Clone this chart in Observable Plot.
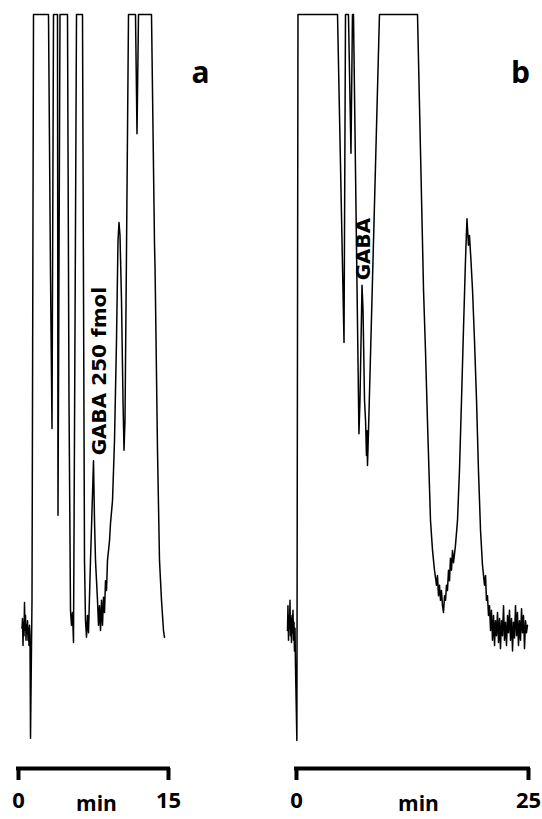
<!DOCTYPE html>
<html>
<head>
<meta charset="utf-8">
<script src="https://cdn.jsdelivr.net/npm/d3@7"></script>
<script src="https://cdn.jsdelivr.net/npm/@observablehq/plot@0.6"></script>
<style>
  body { margin: 0; background: #fff; }
  #wrap { position: relative; width: 542px; height: 819px; background: #fff; }
  #wrap > svg { position: absolute; top: 0; }
</style>
</head>
<body>
<div id="wrap"></div>
<script>
// ---- Panel a: chromatogram, 0–15 min (signal in % of full scale; 100 = off-scale)
const timeA = [0.35,0.40,0.45,0.50,0.55,0.60,0.65,0.70,0.75,0.80,0.85,0.90,0.95,1.00,1.05,1.10,1.15,
  1.20,1.35,1.50,3.00,3.20,3.35,3.50,3.90,3.95,4.15,4.90,5.05,5.20,5.30,5.40,5.50,
  5.80,6.40,6.60,6.70,6.80,6.90,7.00,7.20,7.50,7.60,7.70,
  7.90,8.00,8.10,8.20,8.30,8.40,8.50,8.60,8.70,8.80,8.90,
  9.10,9.20,9.40,9.60,9.80,9.95,10.05,10.15,10.30,10.45,10.55,10.65,10.80,
  11.00,11.70,11.85,12.00,13.30,13.60,13.65,13.70,13.90,14.10,14.30,14.50,14.60];
const signalA = [18.6,19.9,16.3,19.4,17.6,22.0,18.3,20.3,17.0,19.0,18.0,19.6,17.0,18.6,16.3,19.0,17.6,
  4.0,22.3,100,100,65.6,45.1,100,100,33.6,100,100,48.8,21.0,19.0,20.7,16.7,
  100,100,27.6,19.6,17.4,20.3,18.0,27.6,40.8,32.9,27.6,
  22.3,19.0,21.6,18.3,22.3,19.0,22.7,20.7,24.9,23.6,27.6,
  30.2,32.5,35.5,43.5,56.8,70.0,72.4,70.7,62.1,48.8,42.2,46.2,68.7,
  100,100,84.2,100,100,69.6,66.7,62.1,42.2,27.6,22.3,18.3,17.4];
const ticksA = [0, 15];
const notesA = [{t: 8.1, v: 52.7, label: "GABA 250 fmol"}];

// ---- Panel b: chromatogram, 0–25 min
const timeB = [-0.97,-0.92,-0.86,-0.81,-0.75,-0.70,-0.65,-0.59,-0.54,-0.48,-0.43,-0.38,-0.32,-0.27,-0.22,-0.16,-0.11,
  0.04,0.16,4.42,5.12,5.28,5.60,5.87,6.03,6.14,
  6.47,6.73,6.84,7.06,7.17,7.33,7.44,7.54,7.60,7.65,7.76,8.30,8.94,
  13.04,13.69,13.90,14.12,14.44,14.66,14.87,15.09,15.19,15.30,15.41,15.52,15.62,15.73,15.84,15.95,16.06,16.16,16.27,16.38,16.49,16.59,16.70,16.81,16.92,17.13,17.35,17.56,17.78,17.99,18.21,18.37,18.53,18.64,18.80,18.97,19.18,19.40,19.61,19.83,20.04,20.26,20.37,20.47,20.58,
  20.69,20.80,20.91,21.01,21.12,21.23,21.34,21.44,21.55,21.66,21.77,21.88,21.98,22.09,22.20,22.31,22.41,22.52,22.63,22.74,22.84,22.95,23.06,23.17,23.28,23.38,23.49,23.60,23.71,23.81,23.92,24.03,24.14,24.25,24.35,24.46,24.57,24.68,24.78,24.89];
const signalB = [18.3,21.6,17.0,20.3,18.6,22.3,17.6,19.9,16.7,20.3,18.0,21.0,17.0,19.4,15.6,18.6,13.7,
  3.7,100,100,56.5,100,100,81.6,100,100,
  68.7,44.4,48.8,64.1,60.7,48.8,46.2,41.5,44.8,40.2,44.8,70.0,100,
  100,63.4,55.4,45.8,32.9,28.9,26.3,24.3,25.6,22.9,24.3,22.3,23.6,21.6,20.7,22.9,22.3,24.3,23.6,26.3,24.9,27.9,26.3,28.9,27.3,29.6,32.9,39.5,48.8,58.1,67.4,72.9,69.4,70.7,67.4,63.4,56.8,48.8,39.5,31.6,27.0,24.3,25.6,22.3,22.9,
  20.3,21.6,18.3,21.0,17.0,20.3,16.3,19.6,17.6,20.7,16.7,19.9,15.9,19.6,17.6,21.6,17.0,19.4,16.3,20.3,18.0,21.0,17.0,19.9,15.6,19.4,17.3,21.6,17.6,20.7,16.3,19.6,17.0,21.2,18.0,20.3,15.9,19.6,18.0,19.0];
const ticksB = [0, 25];
const notesB = [{t: 7.27, v: 68.9, label: "GABA"}];

const unitLabel = "min";
const H = 819;
const wrap = document.getElementById("wrap");

function panel({time, signal, ticks, letter, notes, width, marginLeft, marginRight, left, letterDx, minDx}) {
  const data = time.map((t, i) => ({t, v: signal[i]}));
  const x0 = ticks[0], x1 = ticks[ticks.length - 1];
  const chart = Plot.plot({
    width, height: H,
    marginTop: 14, marginBottom: 51, marginLeft, marginRight,
    x: {domain: [x0, x1]},
    y: {domain: [0, 100], axis: null},
    style: {fontFamily: "'Open Sans', sans-serif", background: "white", color: "black", overflow: "visible"},
    marks: [
      Plot.line(data, {x: "t", y: "v", stroke: "black", strokeWidth: 1.5}),
      Plot.ruleY([{y: 0, a: x0, b: x1}], {y: "y", x1: "a", x2: "b", stroke: "black", strokeWidth: 4, strokeLinecap: "square"}),
      Plot.axisX({ticks, tickSize: 12, strokeWidth: 4, tickPadding: 12, fontSize: 22, fontWeight: "bold", label: null, tickFormat: d => String(d)}),
      Plot.text([{t: (x0 + x1) / 2, label: unitLabel}], {x: "t", text: "label", frameAnchor: "bottom", dy: 36, dx: minDx, lineAnchor: "middle", fontSize: 21, fontWeight: "bold"}),
      Plot.text([letter], {frameAnchor: "top-right", dx: letterDx, dy: 59, textAnchor: "middle", lineAnchor: "middle", fontSize: 30, fontWeight: "bold"}),
      Plot.text(notes, {x: "t", y: "v", text: "label", rotate: -90, textAnchor: "middle", lineAnchor: "middle", fontSize: 20, fontWeight: "bold", fontFamily: "'DejaVu Sans', sans-serif"})
    ]
  });
  chart.style.left = left + "px";
  wrap.append(chart);
}

panel({time: timeA, signal: signalA, ticks: ticksA, letter: "a", notes: notesA,
  width: 270, marginLeft: 18, marginRight: 102, left: 0, letterDx: 32, minDx: 3});
panel({time: timeB, signal: signalB, ticks: ticksB, letter: "b", notes: notesB,
  width: 272, marginLeft: 26, marginRight: 14, left: 270, letterDx: -8, minDx: 6});
</script>
</body>
</html>
